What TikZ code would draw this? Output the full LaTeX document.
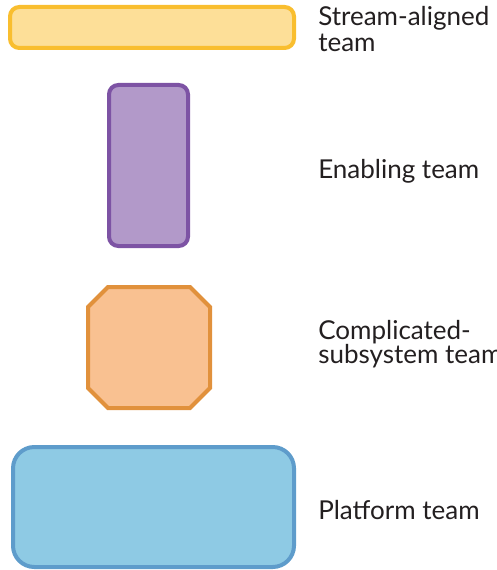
\documentclass[tikz,border=0pt]{standalone}
\usepackage{fontspec}
\setmainfont{Lato}
\definecolor{goldB}{HTML}{F9BE2F}
\definecolor{goldF}{HTML}{FDDF98}
\definecolor{purB}{HTML}{7D53A4}
\definecolor{purF}{HTML}{B299C9}
\definecolor{orB}{HTML}{E1913C}
\definecolor{orF}{HTML}{F9C191}
\definecolor{blB}{HTML}{5E9CCB}
\definecolor{blF}{HTML}{8ECAE4}
\definecolor{txt}{HTML}{231F20}
\begin{document}
\begin{tikzpicture}[x=0.75pt,y=-0.75pt,
  shp/.style={line width=3pt},
  lbl/.style={anchor=base west,inner sep=0pt,text=txt,align=left}]
\useasboundingbox (0,0) rectangle (496,570);
\clip (0,0) rectangle (496,570);
\draw[shp,draw=goldB,fill=goldF,rounded corners=7pt] (10,7) rectangle (294,48);
\draw[shp,draw=purB,fill=purF,rounded corners=7pt] (109,85) rectangle (188,246);
\draw[shp,draw=orB,fill=orF] (108,287) -- (190,287) -- (210,307) -- (210,388) -- (190,408) -- (108,408) -- (88,388) -- (88,307) -- cycle;
\draw[shp,draw=blB,fill=blF,rounded corners=16pt] (13,447) rectangle (294,567);
\node[lbl,font=\fontsize{19.5}{19.5}\selectfont] (s) at (318,52) {Stream-aligned\\team};
\node[lbl,font=\fontsize{19.5}{20}\selectfont] (e) at (318,179) {Enabling team};
\node[lbl,font=\fontsize{19.5}{18}\selectfont] (c) at (318,363) {Complicated-\\subsystem team};
\node[lbl,font=\fontsize{19.5}{20}\selectfont] (p) at (318,519) {Platform team};
\end{tikzpicture}
\end{document}
